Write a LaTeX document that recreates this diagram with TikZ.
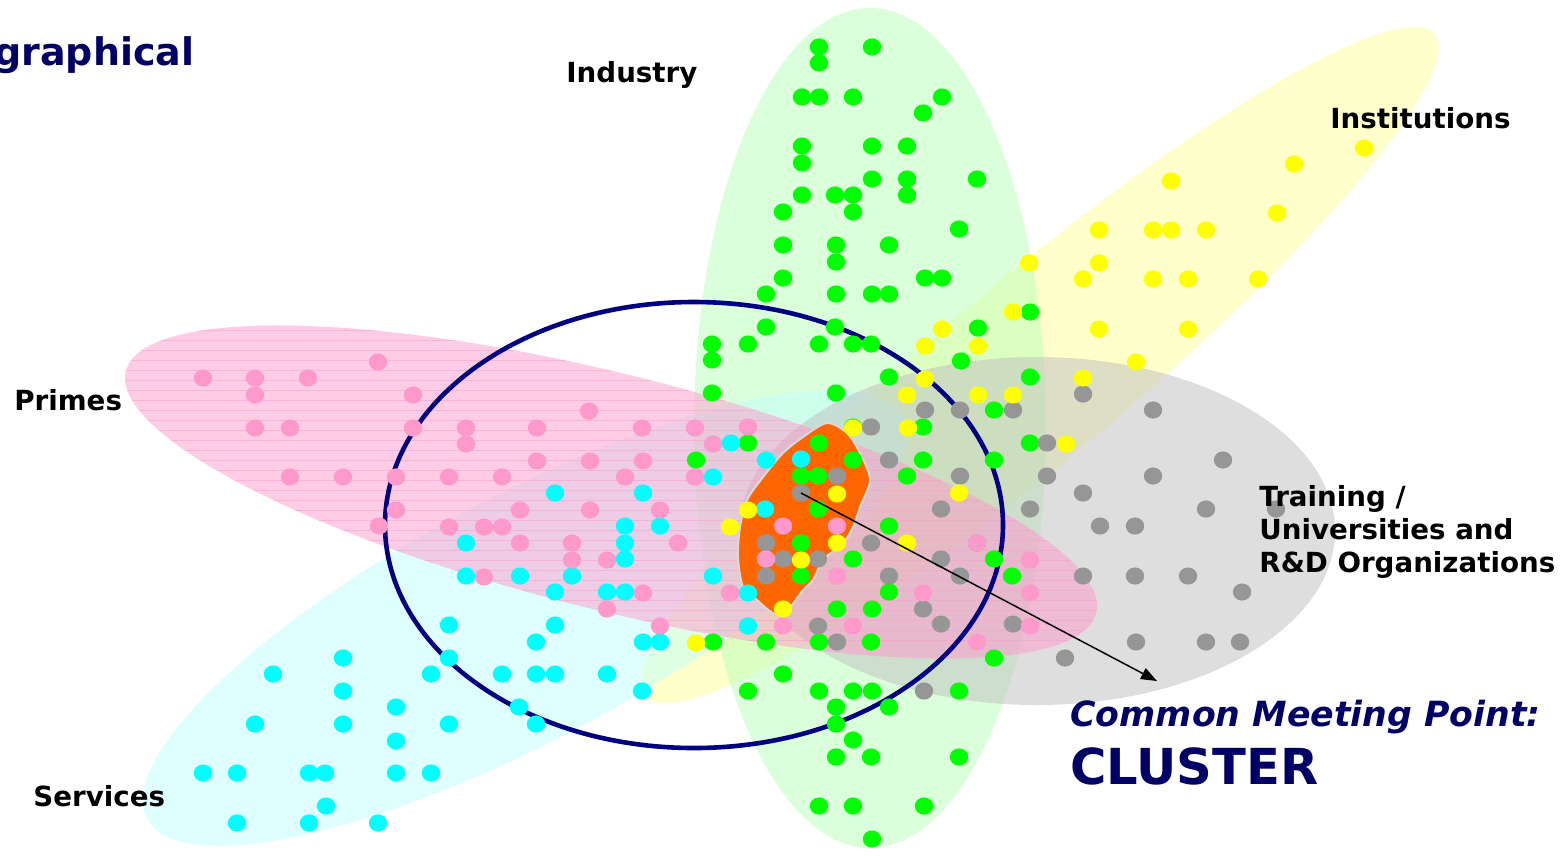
\documentclass[tikz,border=0pt]{standalone}
\usepackage{fontspec}
\setmainfont{DejaVu Sans}
\usepackage{tikz}
\usetikzlibrary{arrows.meta,positioning}

\definecolor{ringnavy}{HTML}{000080}
\definecolor{textnavy}{HTML}{000066}
\definecolor{zonegreen}{HTML}{B8FFB8}
\definecolor{zoneyellow}{HTML}{FFFF99}
\definecolor{zonepink}{HTML}{FF99CC}
\definecolor{zonecyan}{HTML}{C0FFFF}
\definecolor{zonegray}{HTML}{BEBEBE}
\definecolor{dotgreen}{HTML}{00FF00}
\definecolor{dotyellow}{HTML}{FFFF00}
\definecolor{dotpink}{HTML}{FF99CC}
\definecolor{dotcyan}{HTML}{00FFFF}
\definecolor{dotgray}{HTML}{969696}
\definecolor{blobred}{HTML}{FF6600}

\newcommand{\TagFont}{\fontsize{13.85pt}{16.5pt}\selectfont\bfseries}

\tikzset{
  zone/.style={fill=#1, fill opacity=0.5},
  spot/.style={fill=#1, x radius=9.2, y radius=8.6},
  stripe/.style={draw=zonepink, draw opacity=0.5, line width=0.5pt},
  ring/.style={draw=ringnavy, line width=2.3pt},
  blob/.style={fill=blobred, draw=black!15, line width=1pt},
  tag/.style={inner sep=0pt, font=\TagFont, text=black},
  pointer/.style={-{Triangle[length=8pt,width=6pt]}, line width=0.75pt},
}

\begin{document}
\begin{tikzpicture}[x=0.5pt, y=-0.5pt]
  \useasboundingbox (0,0) rectangle (1566,864);

  % Zones
  \fill[zone=zoneyellow, rotate around={40:(1040,365)}] (1040,365) ellipse [x radius=515, y radius=90];
  \fill[zone=zonegreen] (870,428) ellipse [x radius=176, y radius=420];
  \fill[zone=zonecyan, rotate around={28:(525,618)}] (525,618) ellipse [x radius=428, y radius=122];
  \fill[zone=zonegray] (1037,531) ellipse [x radius=298, y radius=174];
  \fill[zone=zonepink, rotate around={-14:(611,492)}] (611,492) ellipse [x radius=500, y radius=118];
  \begin{scope}
    \clip[rotate around={-14:(611,492)}] (611,492) ellipse [x radius=500, y radius=118];
    \foreach \s in {320,330,...,640}
      \draw[stripe] (100,\s) -- (1120,\s);
  \end{scope}

  % Cluster ring and core
  \draw[ring] (694,525) ellipse [x radius=309, y radius=223];
  \filldraw[blob] plot[smooth cycle, tension=0.5] coordinates {(827,423) (847,433) (860,453) (870,480)
    (860,507) (853,527) (843,543) (823,560) (813,580) (803,590) (790,607) (775,614) (757,600)
    (743,587) (738,557) (740,527) (747,500) (763,477) (783,453) (803,437)};

  % Actors
  \foreach \x/\y in {819/47, 872/47, 819/63, 802/97, 819/97, 853/97, 942/97, 923/113, 802/146,
      872/146, 907/146, 802/163, 872/179, 907/179, 977/179, 802/195, 835/195, 853/195, 907/195,
      783/212, 853/212, 959/229, 783/245, 836/245, 889/245, 836/262, 783/278, 925/278, 942/278,
      766/294, 836/294, 872/294, 889/294, 1030/312, 766/327, 835/327, 978/328, 712/344, 748/344,
      819/344, 853/344, 871/344, 712/360, 961/361, 889/377, 1030/377, 712/393, 836/393, 994/410,
      853/427, 923/427, 748/443, 819/443, 1030/443, 696/460, 853/460, 923/460, 994/460, 801/476,
      818/476, 907/476, 818/509, 889/526, 801/543, 977/543, 766/559, 853/559, 994/559, 801/576,
      1012/576, 889/592, 837/609, 872/609, 713/642, 766/642, 819/642, 871/642, 994/658, 783/674,
      748/691, 819/691, 853/691, 872/691, 959/691, 836/707, 889/707, 836/724, 853/740, 836/757,
      871/757, 959/757, 819/806, 853/806, 924/806, 872/839}
    \fill[spot=dotgreen] (\x,\y) circle;
  \foreach \x/\y in {1083/394, 925/410, 960/410, 1013/410, 1153/410, 871/427, 1047/443, 889/460,
      1223/460, 837/476, 960/476, 1047/476, 1153/476, 801/493, 1083/493, 941/509, 1030/509,
      1206/509, 1276/509, 1100/526, 1135/526, 766/543, 871/543, 783/559, 818/559, 941/559,
      766/576, 889/576, 960/576, 1083/576, 1135/576, 1188/576, 1242/592, 923/609, 818/626,
      941/624, 1013/624, 837/642, 1136/642, 1206/642, 1240/642, 1065/658, 924/691}
    \fill[spot=dotgray] (\x,\y) circle;
  \foreach \x/\y in {731/443, 766/460, 801/459, 713/477, 555/493, 643/493, 765/509, 625/526,
      660/526, 466/543, 625/543, 625/559, 466/576, 520/576, 572/576, 713/576, 555/592, 607/592,
      625/592, 748/593, 449/625, 555/625, 748/626, 536/642, 643/642, 660/642, 343/658, 449/658,
      273/674, 431/674, 502/674, 536/674, 555/674, 607/674, 343/691, 642/691, 396/707, 519/707,
      255/724, 343/724, 449/724, 536/724, 396/741, 203/773, 237/773, 309/773, 325/773, 396/773,
      431/773, 326/806, 237/823, 309/823, 378/823}
    \fill[spot=dotcyan] (\x,\y) circle;
  \foreach \x/\y in {378/362, 203/378, 255/378, 308/378, 255/395, 413/395, 589/411, 255/428,
      290/428, 413/428, 466/428, 537/428, 642/428, 695/428, 748/427, 466/444, 713/444, 537/461,
      590/461, 643/461, 290/477, 343/477, 396/477, 449/477, 502/477, 625/477, 695/477, 396/510,
      520/510, 590/510, 660/510, 379/526, 449/527, 484/527, 502/527, 783/526, 837/526, 520/543,
      572/543, 678/543, 977/543, 572/560, 607/560, 766/559, 1030/560, 484/577, 837/576, 643/593,
      730/593, 923/593, 1030/593, 607/609, 660/626, 783/626, 853/626, 1030/626, 977/642}
    \fill[spot=dotpink] (\x,\y) circle;
  \foreach \x/\y in {1364/148, 1294/164, 1171/181, 1277/213, 1099/230, 1153/230, 1171/230,
      1206/230, 1029/263, 1099/263, 1083/279, 1153/279, 1188/279, 1258/279, 1013/312, 942/329,
      1099/329, 1188/329, 925/346, 978/346, 1136/362, 925/379, 1083/378, 907/395, 978/395,
      1013/395, 853/428, 908/428, 1066/444, 837/494, 959/493, 748/510, 730/527, 837/543,
      907/543, 801/560, 783/609, 696/643}
    \fill[spot=dotyellow] (\x,\y) circle;

  % Labels
  \node[tag, anchor=base west, text=textnavy, font=\fontsize{19pt}{22pt}\selectfont\bfseries]
    (graph) at (-6,65) {graphical};
  \node[tag, anchor=base west] (industry) at (566,82) {Industry};
  \node[tag, anchor=base west] (institutions) at (1330,128) {Institutions};
  \node[tag, anchor=base west] (primes) at (14,410) {Primes};
  \node[tag, anchor=base west] (services) at (33,806) {Services};
  \node[tag, anchor=north west, align=left] (training) at (1259,485)
    {Training /\\Universities and\\R\&D Organizations};
  \node[tag, anchor=base west, text=textnavy, font=\fontsize{17.35pt}{20pt}\selectfont\bfseries\itshape]
    (meeting) at (1070,726) {Common Meeting Point:};
  \node[tag, anchor=base west, text=textnavy, font=\fontsize{24.8pt}{28pt}\selectfont\bfseries]
    (cluster) at (1070,784) {CLUSTER};

  % Pointer
  \coordinate (hub) at (801,493);
  \coordinate (tip) at (1157,681);
  \draw[pointer] (hub) -- (tip);
\end{tikzpicture}
\end{document}
